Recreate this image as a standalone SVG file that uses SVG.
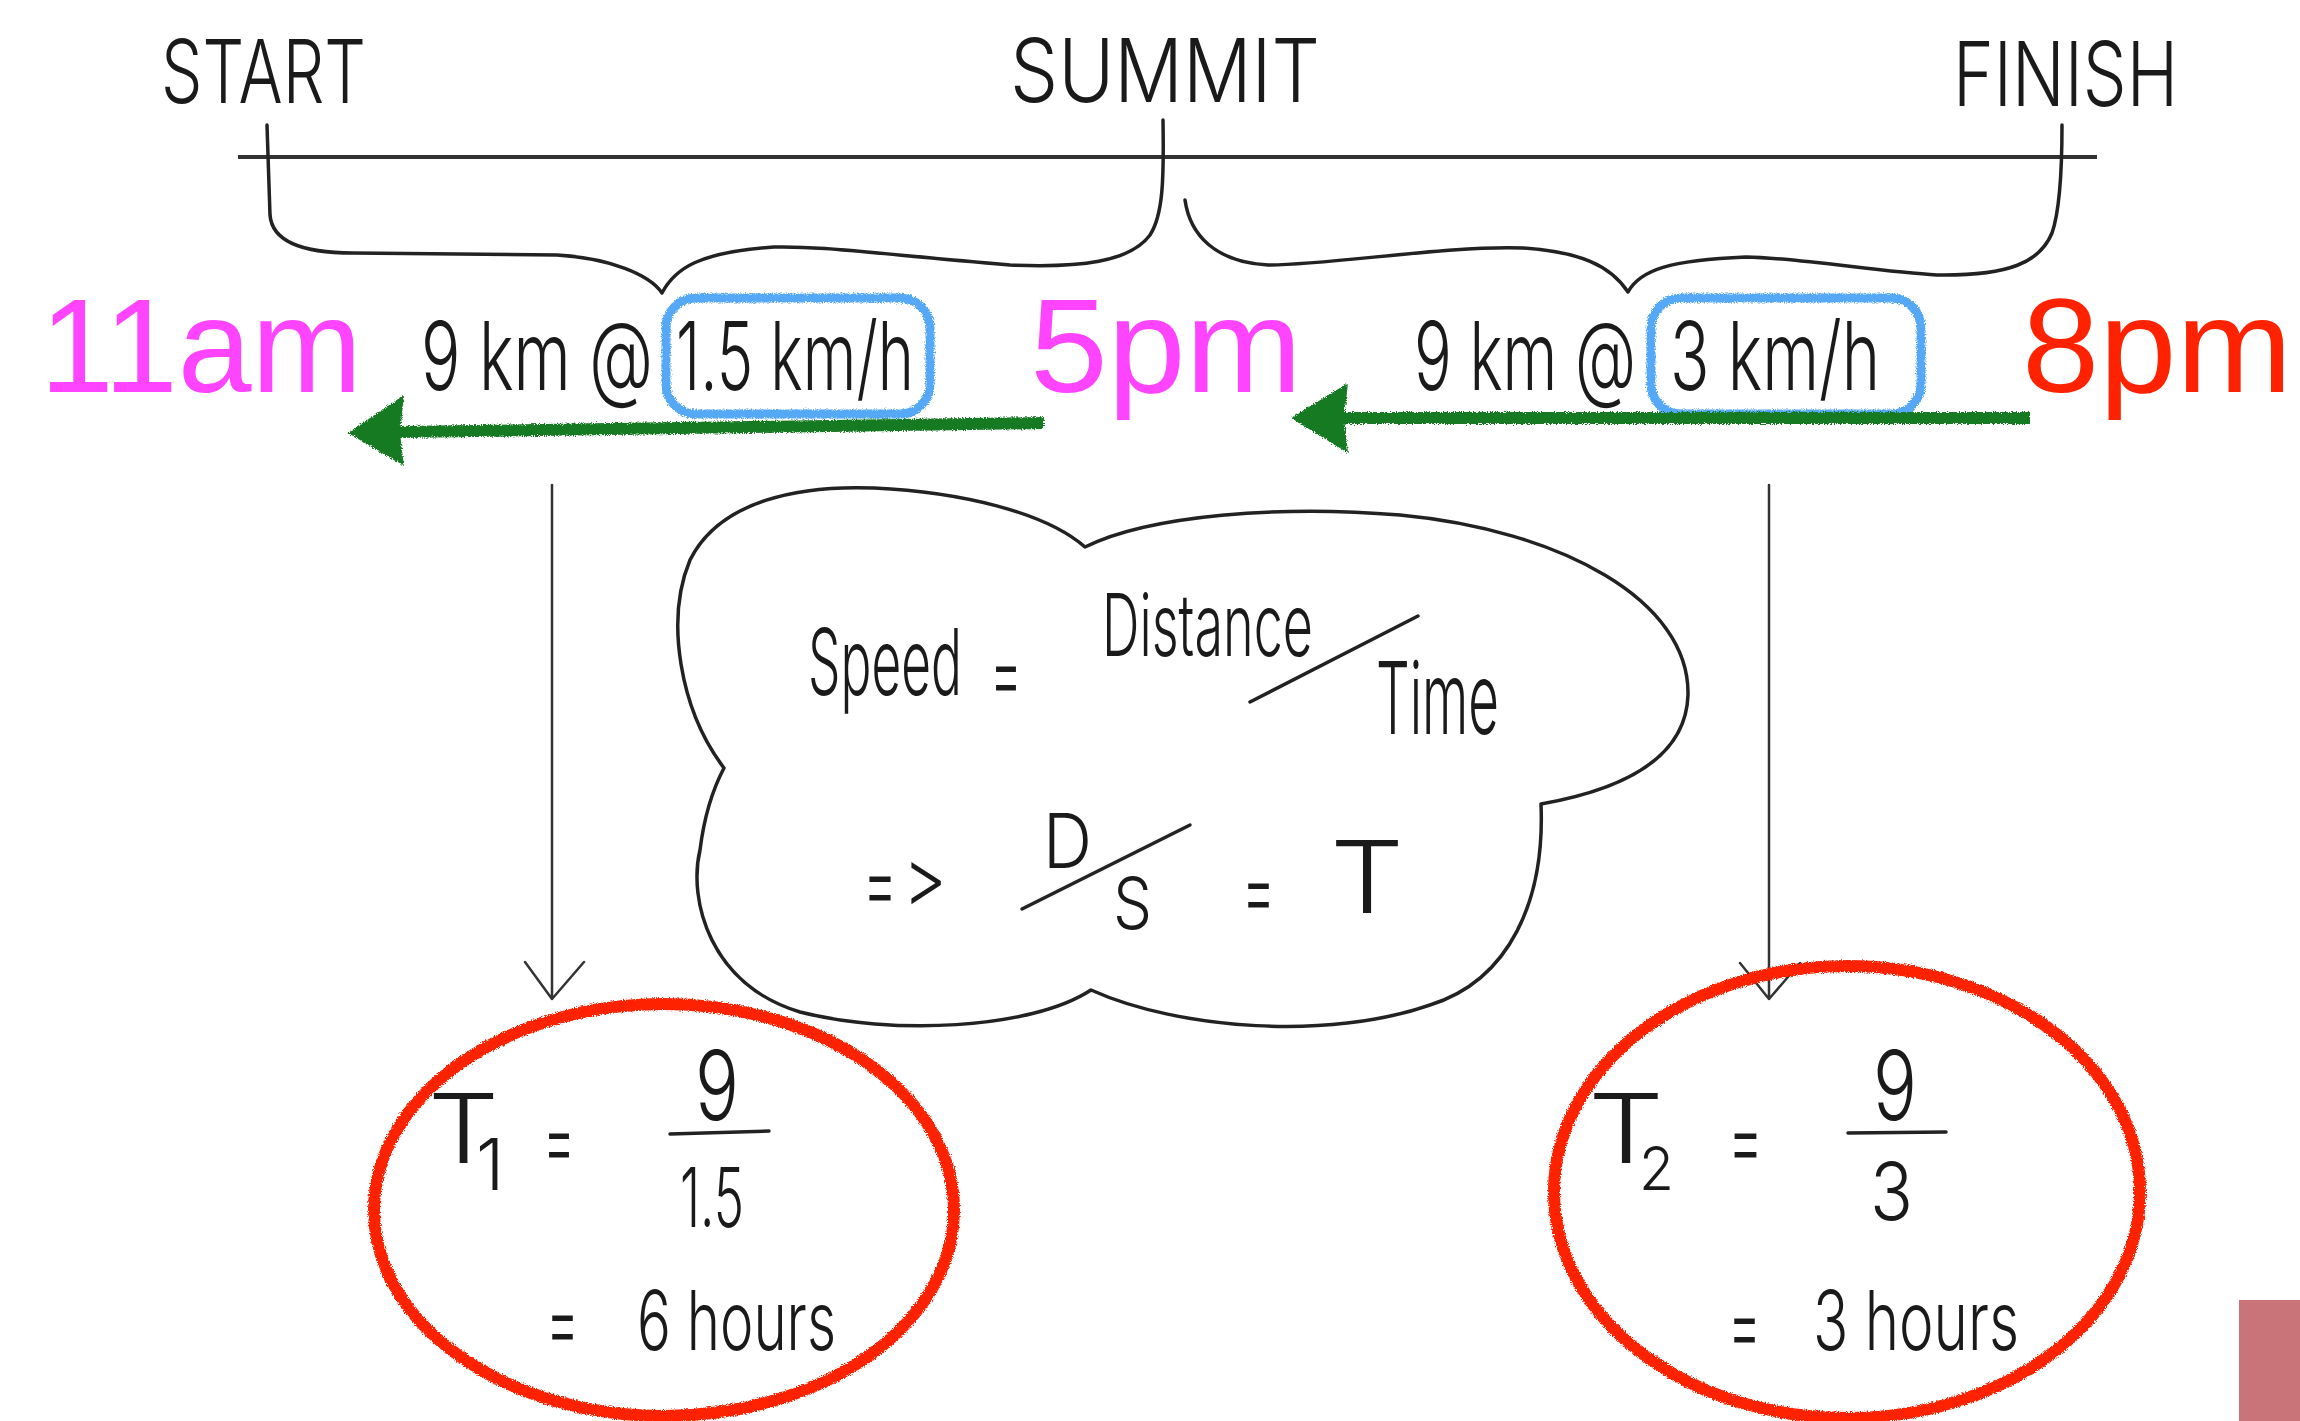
<svg xmlns="http://www.w3.org/2000/svg" width="2300" height="1421" viewBox="0 0 2300 1421">
<defs>
<style>
.hand{font-family:Inter,"DejaVu Sans",sans-serif;font-weight:300;fill:#1a1a1a;font-variant-ligatures:none;font-feature-settings:"calt" 0,"liga" 0}
.eq{font-size:90px}
.time{font-family:"Liberation Sans",Arial,sans-serif;font-size:133px}
.ink{fill:none;stroke:#222;stroke-width:3.5;stroke-linecap:round;stroke-linejoin:round}
.thin{fill:none;stroke:#333;stroke-width:2.5;stroke-linecap:round;stroke-linejoin:round}
.red{fill:none;stroke:#ff2200;stroke-width:12}
.blue{fill:none;stroke:#55a8f5;stroke-width:9}
.green{stroke:#177a22;stroke-width:12;fill:none}
.gh{fill:#177a22}
</style>
<filter id="rough" x="-5%" y="-5%" width="110%" height="110%">
<feTurbulence type="fractalNoise" baseFrequency="0.9" numOctaves="2" seed="3" result="n"/>
<feDisplacementMap in="SourceGraphic" in2="n" scale="5" xChannelSelector="R" yChannelSelector="G"/>
</filter>
</defs>
<rect width="2300" height="1421" fill="#fff"/>

<g id="timeline">
<line x1="238" y1="157" x2="2097" y2="157" stroke="#333" stroke-width="4"/>
<path class="ink" d="M267 125 L270 215 C272 240 300 253 353 253 L557 255 C610 258 650 275 662 293 C675 268 700 252 774 247 C820 246 860 252 1010 265 C1080 268 1130 262 1150 235 C1163 215 1164 180 1163 120"/>
<path class="ink" d="M1185 200 C1190 235 1215 262 1268 265 C1330 265 1450 245 1523 248 C1580 252 1610 265 1628 292 C1640 270 1670 260 1746 257 C1800 258 1880 272 1937 275 C2010 276 2040 262 2052 233 C2060 210 2062 160 2062 125"/>
</g>

<g id="start"><text class="hand" x="161" y="103" font-size="88" textLength="205" lengthAdjust="spacingAndGlyphs">START</text></g>
<g id="summit"><text class="hand" x="1010" y="102" font-size="88" textLength="310" lengthAdjust="spacingAndGlyphs">SUMMIT</text></g>
<g id="finish"><text class="hand" x="1953" y="106" font-size="90" textLength="225" lengthAdjust="spacingAndGlyphs">FINISH</text></g>

<g id="t11am"><text class="time" x="40" y="392" fill="#ff44ff" textLength="322" lengthAdjust="spacingAndGlyphs">11am</text></g>
<g id="t5pm"><text class="time" x="1030" y="392" fill="#ff44ff" textLength="272" lengthAdjust="spacingAndGlyphs">5pm</text></g>
<g id="t8pm"><text class="time" x="2022" y="392" fill="#ff2200" textLength="270" lengthAdjust="spacingAndGlyphs">8pm</text></g>

<g id="leg1">
<text class="hand" x="421" y="390" font-size="95" textLength="232" lengthAdjust="spacingAndGlyphs">9 km @</text>
<text class="hand" x="676" y="390" font-size="95" textLength="238" lengthAdjust="spacingAndGlyphs">1.5 km/h</text>
<rect class="blue" x="666" y="298" width="264" height="116" rx="30" filter="url(#rough)"/>
</g>
<g id="leg2">
<text class="hand" x="1414" y="390" font-size="95" textLength="222" lengthAdjust="spacingAndGlyphs">9 km @</text>
<text class="hand" x="1670" y="390" font-size="95" textLength="210" lengthAdjust="spacingAndGlyphs">3 km/h</text>
<rect class="blue" x="1651" y="298" width="270" height="116" rx="30" filter="url(#rough)"/>
</g>

<g id="connectors">
<g filter="url(#rough)">
<path class="green" d="M1044 423 L398 432"/>
<path class="gh" d="M348 433 L404 395 L400 433 L404 466 Z"/>
<path class="green" d="M2030 418 L1340 418"/>
<path class="gh" d="M1291 418 L1348 383 L1344 418 L1348 453 Z"/>
</g>
<path class="thin" d="M552 485 L552 999 M525 962 L552 999 L584 962"/>
<path class="thin" d="M1769 485 L1769 999 M1740 963 L1769 999 L1800 963"/>
</g>

<g id="cloud">
<path class="ink" d="M724 768 C680 710 665 620 690 560 C720 500 800 485 874 488 C960 492 1045 512 1085 547 C1150 515 1280 505 1400 515 C1560 530 1690 600 1688 695 C1686 760 1620 790 1541 804 C1545 900 1510 980 1430 1005 C1330 1040 1180 1030 1091 990 C1030 1030 890 1035 800 1012 C710 985 688 900 700 850 C705 810 715 785 724 768 Z"/>
<text class="hand" x="808" y="695" font-size="92" textLength="154" lengthAdjust="spacingAndGlyphs">Speed</text>
<text class="hand eq" x="990" y="704" textLength="32" lengthAdjust="spacingAndGlyphs">=</text>
<text class="hand" x="1102" y="656" font-size="86" textLength="211" lengthAdjust="spacingAndGlyphs">Distance</text>
<line class="ink" x1="1250" y1="702" x2="1418" y2="616"/>
<text class="hand" x="1376" y="734" font-size="100" textLength="123" lengthAdjust="spacingAndGlyphs">Time</text>
<text class="hand eq" x="863" y="914" textLength="34" lengthAdjust="spacingAndGlyphs">=</text>
<text class="hand" x="903" y="906" font-size="80" textLength="44" lengthAdjust="spacingAndGlyphs">&gt;</text>
<text class="hand" x="1043" y="868" font-size="76" textLength="49" lengthAdjust="spacingAndGlyphs">D</text>
<line class="ink" x1="1022" y1="909" x2="1190" y2="825"/>
<text class="hand" x="1113" y="929" font-size="72" textLength="39" lengthAdjust="spacingAndGlyphs">S</text>
<text class="hand eq" x="1242" y="921" textLength="33" lengthAdjust="spacingAndGlyphs">=</text>
<text class="hand" x="1330" y="913" font-size="100" textLength="74" lengthAdjust="spacingAndGlyphs">T</text>
</g>

<g id="result1">
<ellipse class="red" cx="664" cy="1210" rx="290" ry="206" filter="url(#rough)"/>
<text class="hand" x="428" y="1163" font-size="96" textLength="71" lengthAdjust="spacingAndGlyphs">T</text>
<text class="hand" x="476" y="1190" font-size="72">1</text>
<text class="hand eq" x="543" y="1171" textLength="32" lengthAdjust="spacingAndGlyphs">=</text>
<text class="hand" x="695" y="1120" font-size="96" textLength="44" lengthAdjust="spacingAndGlyphs">9</text>
<line class="ink" x1="670" y1="1134" x2="769" y2="1131"/>
<text class="hand" x="680" y="1227" font-size="82" textLength="64" lengthAdjust="spacingAndGlyphs">1.5</text>
<text class="hand eq" x="546" y="1353" textLength="33" lengthAdjust="spacingAndGlyphs">=</text>
<text class="hand" x="637" y="1350" font-size="82" textLength="199" lengthAdjust="spacingAndGlyphs">6 hours</text>
</g>

<g id="result2">
<ellipse class="red" cx="1847" cy="1192" rx="293" ry="226" filter="url(#rough)"/>
<text class="hand" x="1588" y="1163" font-size="96" textLength="76" lengthAdjust="spacingAndGlyphs">T</text>
<text class="hand" x="1639" y="1190" font-size="60" textLength="35" lengthAdjust="spacingAndGlyphs">2</text>
<text class="hand eq" x="1728" y="1171" textLength="35" lengthAdjust="spacingAndGlyphs">=</text>
<text class="hand" x="1873" y="1120" font-size="96" textLength="44" lengthAdjust="spacingAndGlyphs">9</text>
<line class="ink" x1="1848" y1="1133" x2="1946" y2="1132"/>
<text class="hand" x="1870" y="1220" font-size="80" textLength="43" lengthAdjust="spacingAndGlyphs">3</text>
<text class="hand eq" x="1728" y="1356" textLength="33" lengthAdjust="spacingAndGlyphs">=</text>
<text class="hand" x="1813" y="1350" font-size="82" textLength="206" lengthAdjust="spacingAndGlyphs">3 hours</text>
</g>

<rect id="corner" x="2239" y="1300" width="61" height="121" fill="#c87478"/>
</svg>
